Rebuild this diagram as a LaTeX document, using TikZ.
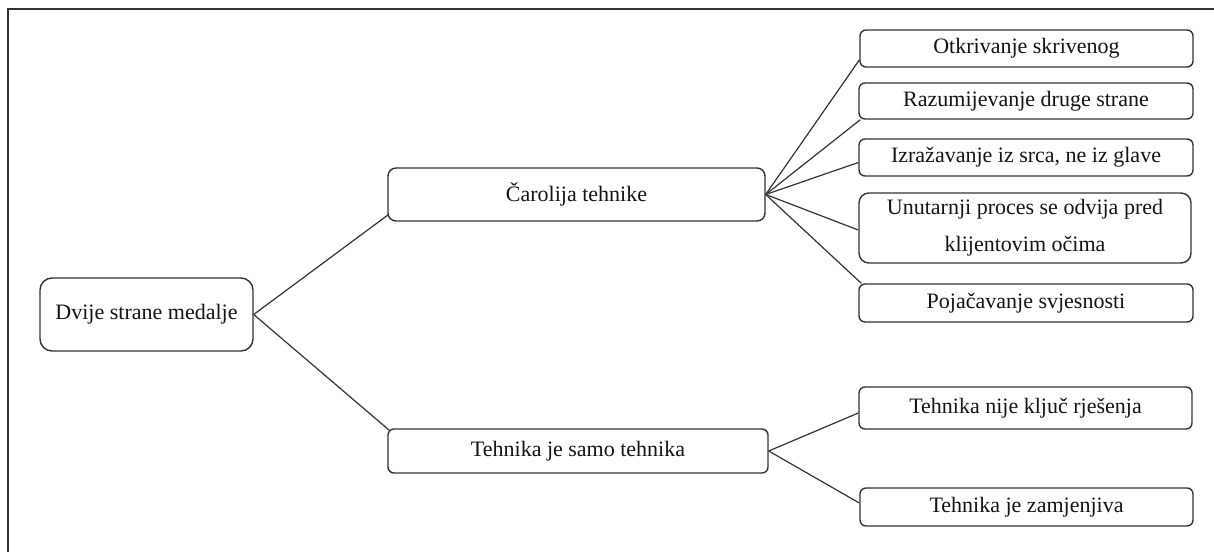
\documentclass[tikz,border=0pt]{standalone}
\usepackage{fontspec}
\setmainfont{Liberation Serif}
\definecolor{edge}{HTML}{333333}
\definecolor{ink}{HTML}{141414}
\begin{document}
\begin{tikzpicture}[x=1pt,y=-1pt,
  box/.style={draw=edge, line width=1.4pt, fill=white, text=ink, rounded corners=6pt,
    inner sep=0pt, align=center, font=\fontsize{22}{37}\selectfont},
  link/.style={draw=edge, line width=1.2pt},
  frameline/.style={draw=black!80, line width=1.6pt}]
\useasboundingbox (0,0) rectangle (1214,551);
\draw[frameline] (8,560) -- (8,9) -- (1220,9);

\node[box, rounded corners=12pt, minimum width=213pt, minimum height=73pt] (root) at (146.5,314.5) {Dvije strane medalje};
\node[box, rounded corners=8pt, minimum width=377pt, minimum height=53pt] (car) at (576.5,194.5) {Čarolija tehnike};
\node[box, minimum width=380pt, minimum height=44pt] (tsam) at (578,451) {Tehnika je samo tehnika};

\node[box, minimum width=333pt, minimum height=37pt] (o1) at (1026.5,48.5) {Otkrivanje skrivenog};
\node[box, minimum width=334pt, minimum height=36pt] (o2) at (1026,101) {Razumijevanje druge strane};
\node[box, minimum width=334pt, minimum height=37pt] (o3) at (1026,157.5) {Izražavanje iz srca, ne iz glave};
\node[box, rounded corners=10pt, minimum width=332pt, minimum height=70pt] (o4) at (1025,228) {Unutarnji proces se odvija pred\\klijentovim očima};
\node[box, minimum width=334pt, minimum height=38pt] (o5) at (1026,303) {Pojačavanje svjesnosti};

\node[box, minimum width=333pt, minimum height=42pt] (t1) at (1025.5,408) {Tehnika nije ključ rješenja};
\node[box, minimum width=333pt, minimum height=38pt] (t2) at (1026.5,507) {Tehnika je zamjenjiva};

\draw[link] (root.east) -- ([shift={(1,-7)}]car.south west);
\draw[link] (root.east) -- ([shift={(2,2)}]tsam.north west);

\draw[link] (car.east) -- ([shift={(0,11.5)}]o1.west);
\draw[link] (car.east) -- ([shift={(2,0)}]o2.south west);
\draw[link] (car.east) -- ([shift={(0,5)}]o3.west);
\draw[link] (car.east) -- ([shift={(0,2)}]o4.west);
\draw[link] (car.east) -- ([shift={(3,0)}]o5.north west);

\draw[link] (tsam.east) -- ([shift={(0,5)}]t1.west);
\draw[link] (tsam.east) -- ([shift={(0,-4)}]t2.west);
\end{tikzpicture}
\end{document}
